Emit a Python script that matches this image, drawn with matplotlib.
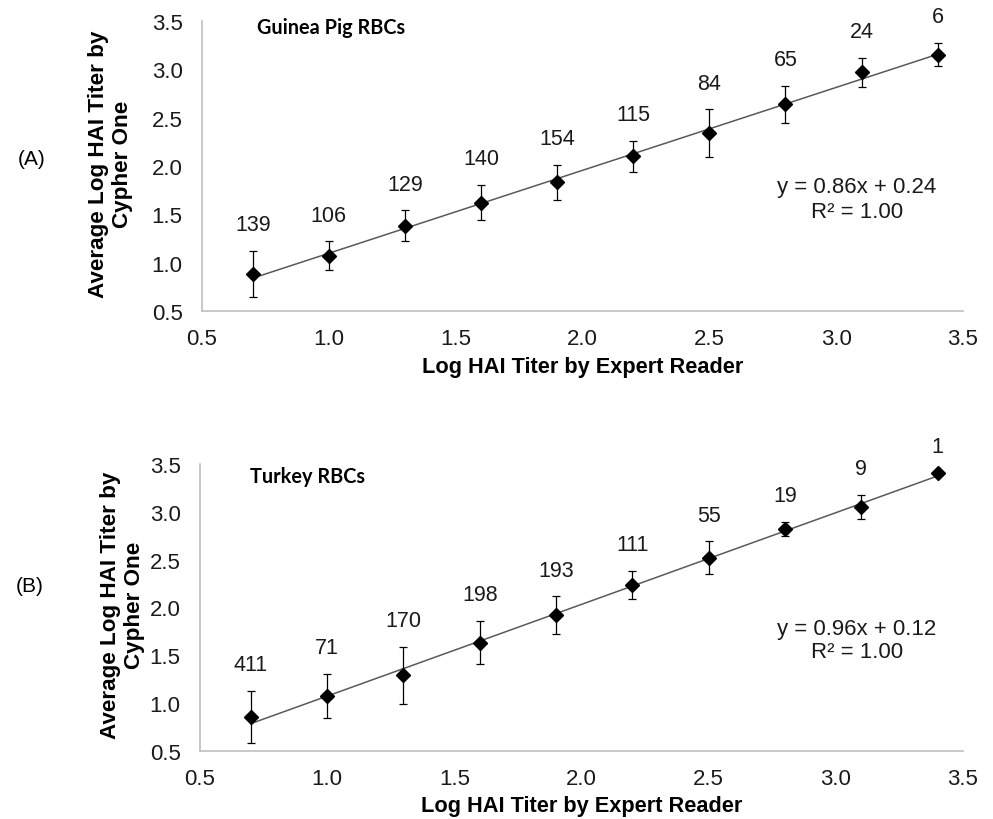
import numpy as np
import matplotlib
matplotlib.use("Agg")
import matplotlib.pyplot as plt

# ---------------- data ----------------
x_vals = [0.7, 1.0, 1.3, 1.6, 1.9, 2.2, 2.5, 2.8, 3.1, 3.4]

gp_mean = [0.88, 1.07, 1.38, 1.62, 1.83, 2.10, 2.34, 2.64, 2.97, 3.15]
gp_err = [0.24, 0.15, 0.16, 0.18, 0.18, 0.16, 0.245, 0.19, 0.15, 0.12]
gp_n = ["139", "106", "129", "140", "154", "115", "84", "65", "24", "6"]
gp_eq = ["y = 0.86x + 0.24", "R² = 1.00"]

tk_mean = [0.855, 1.075, 1.29, 1.63, 1.92, 2.235, 2.52, 2.82, 3.05, 3.41]
tk_err = [0.27, 0.235, 0.295, 0.225, 0.195, 0.145, 0.17, 0.07, 0.13, 0.0]
tk_n = ["411", "71", "170", "198", "193", "111", "55", "19", "9", "1"]
tk_eq = ["y = 0.96x + 0.12", "R² = 1.00"]

x_ticks = [0.5, 1.0, 1.5, 2.0, 2.5, 3.0, 3.5]
y_ticks = [0.5, 1.0, 1.5, 2.0, 2.5, 3.0, 3.5]

# ---------------- figure ----------------
W, H = 993, 820
fig = plt.figure(figsize=(W / 100, H / 100), dpi=100)
plt.rcParams['font.family'] = ['Liberation Sans', 'DejaVu Sans']

TXT = "#1a1a1a"


def px_ax(l, t, r, b):
    return fig.add_axes([l / W, 1 - b / H, (r - l) / W, (b - t) / H])


ax1 = px_ax(202, 22, 963, 312)
ax2 = px_ax(200, 465, 963, 752)

panels = [
    (ax1, gp_mean, gp_err, gp_n, gp_eq, "Guinea Pig RBCs", (0.072, 0.959), -0.091, (857, 188, 213)),
    (ax2, tk_mean, tk_err, tk_n, tk_eq, "Turkey RBCs", (0.066, 0.937), -0.072, (857, 630, 653)),
]

for ax, mean, err, ns, eq, title, tpos, ylx, eqpos in panels:
    xs = np.array(x_vals)
    ys = np.array(mean)
    es = np.array(err)
    coef = np.polyfit(xs, ys, 1)
    ax.plot(xs, np.polyval(coef, xs), color="#595959", lw=1.1, zorder=2)
    ax.errorbar(xs, ys, yerr=es, fmt="none", ecolor="black", elinewidth=0.9,
                capsize=3, capthick=0.9, zorder=3)
    ax.plot(xs, ys, linestyle="none", marker="D", markersize=7.5,
            color="black", zorder=4)
    for xi, yi, ei, lab in zip(xs, ys, es, ns):
        ax.annotate(lab, (xi, yi + ei), xytext=(0, 19), textcoords="offset points",
                    ha="center", va="center", fontsize=15.5, color=TXT)

    ax.set_xlim(0.5, 3.5)
    ax.set_ylim(0.5, 3.5)
    ax.set_xticks(x_ticks)
    ax.set_yticks(y_ticks)
    ax.set_xticklabels([f"{v:.1f}" for v in x_ticks])
    ax.set_yticklabels([f"{v:.1f}" for v in y_ticks])
    ax.tick_params(length=0, labelsize=16, colors=TXT)
    ax.tick_params(axis="x", pad=12)
    ax.tick_params(axis="y", pad=14)
    for s in ["top", "right"]:
        ax.spines[s].set_visible(False)
    for s in ["left", "bottom"]:
        ax.spines[s].set_color("#bfbfbf")
        ax.spines[s].set_linewidth(1.2)
    ax.patch.set_alpha(0)

    ax.text(0.5, -0.19, "Log HAI Titer by Expert Reader", transform=ax.transAxes,
            ha="center", va="center", fontsize=15.7, fontweight="bold")
    ax.set_ylabel("Average Log HAI Titer by\nCypher One", fontsize=16.2,
                  fontweight="bold", linespacing=1.2)
    ax.yaxis.set_label_coords(ylx, 0.51)

    ax.text(tpos[0], tpos[1], title, transform=ax.transAxes, ha="left", va="baseline",
            fontsize=14.3, fontweight="bold", family=["Lato", "DejaVu Sans"])

    ex, ey1, ey2 = eqpos
    fig.text(ex / W, 1 - ey1 / H, eq[0], ha="center", va="center", fontsize=16,
             color=TXT)
    fig.text(ex / W, 1 - ey2 / H, eq[1], ha="center", va="center", fontsize=16,
             color=TXT)

fig.text(32 / W, 1 - 160 / H, "(A)", ha="center", va="center", fontsize=15)
fig.text(30 / W, 1 - 587 / H, "(B)", ha="center", va="center", fontsize=15)

fig.savefig("out.png", dpi=100, facecolor="white")
